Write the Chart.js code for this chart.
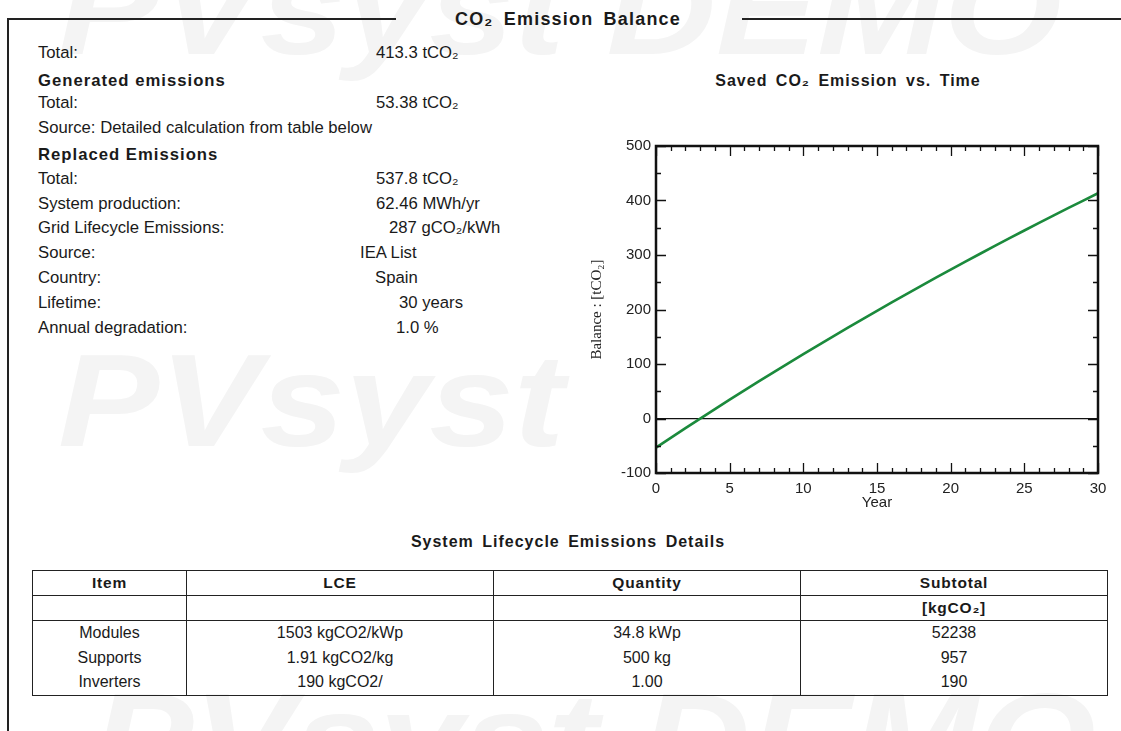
<!DOCTYPE html>
<html>
<head>
<meta charset="utf-8">
<title>CO2 Emission Balance</title>
<script src="https://cdn.jsdelivr.net/npm/chart.js@4/dist/chart.umd.min.js"></script>
<style>
    body {
        margin: 0;
        width: 1121px;
        height: 731px;
        overflow: hidden;
        position: relative;
        background: #fff;
        color: #1a1a1a;
        font-family: "Liberation Sans", Arial, sans-serif;
    }
    .wm {
        position: absolute;
        font: italic bold 132px "Liberation Sans", Arial, sans-serif;
        line-height: 1;
        color: #f4f4f4;
        white-space: nowrap;
        transform-origin: 0 0;
        transform: scaleX(1.15);
    }
    .rule { position: absolute; background: #222; }
    .txt { position: absolute; font-size: 16.7px; line-height: 20px; white-space: nowrap; }
    .hd { font-weight: bold; letter-spacing: 1px; }
    .ttl {
        position: absolute;
        font-weight: bold;
        white-space: nowrap;
        transform: translateX(-50%);
        line-height: 20px;
    }
    #chartBox { position: absolute; left: 580px; top: 130px; width: 540px; height: 390px; }
    #tbl {
        position: absolute;
        left: 32px;
        top: 570px;
        width: 1075px;
        border-collapse: collapse;
        table-layout: fixed;
        border: 1.5px solid #222;
        font-size: 16px;
    }
    #tbl td {
        text-align: center;
        padding: 0;
        border-left: 1px solid #222;
        border-right: 1px solid #222;
        height: 24.6px;
        line-height: 20px;
        white-space: nowrap;
    }
    #tbl tr.head td { font-weight: bold; font-size: 15.5px; letter-spacing: 0.8px; border-bottom: 1px solid #222; height: 24px; }
</style>
</head>
<body>

<!-- watermark -->
<div class="wm" style="left:58px; top:-57px;">PVsyst DEMO</div>
<div class="wm" style="left:58px; top:335px;">PVsyst</div>
<div class="wm" style="left:92px; top:674px;">PVsyst DEMO</div>

<!-- page frame -->
<div class="rule" style="left:7px; top:18px; width:389px; height:1.5px;"></div>
<div class="rule" style="left:742px; top:18px; width:379px; height:1.5px;"></div>
<div class="rule" style="left:7px; top:18px; width:1.5px; height:713px;"></div>
<div class="ttl" style="left:568px; top:9px; font-size:18px; letter-spacing:1.2px; word-spacing:4px;">CO₂ Emission Balance</div>

<!-- summary -->
<div class="txt" style="left:38px; top:43px;">Total:</div>
<div class="txt" style="left:376px; top:43px;">413.3 tCO₂</div>
<div class="txt hd" style="left:38px; top:71px;">Generated emissions</div>
<div class="txt" style="left:38px; top:93px;">Total:</div>
<div class="txt" style="left:376px; top:93px;">53.38 tCO₂</div>
<div class="txt" style="left:38px; top:118px;">Source: Detailed calculation from table below</div>
<div class="txt hd" style="left:38px; top:145px;">Replaced Emissions</div>
<div class="txt" style="left:38px; top:169px;">Total:</div>
<div class="txt" style="left:376px; top:169px;">537.8 tCO₂</div>
<div class="txt" style="left:38px; top:194px;">System production:</div>
<div class="txt" style="left:376px; top:194px;">62.46 MWh/yr</div>
<div class="txt" style="left:38px; top:218px;">Grid Lifecycle Emissions:</div>
<div class="txt" style="left:389px; top:218px;">287 gCO₂/kWh</div>
<div class="txt" style="left:38px; top:243px;">Source:</div>
<div class="txt" style="left:360px; top:243px;">IEA List</div>
<div class="txt" style="left:38px; top:268px;">Country:</div>
<div class="txt" style="left:375px; top:268px;">Spain</div>
<div class="txt" style="left:38px; top:293px;">Lifetime:</div>
<div class="txt" style="left:399px; top:293px;">30 years</div>
<div class="txt" style="left:38px; top:318px;">Annual degradation:</div>
<div class="txt" style="left:396px; top:318px;">1.0 %</div>

<!-- chart -->
<div class="ttl" style="left:848px; top:71px; font-size:16px; letter-spacing:1px; word-spacing:3px;">Saved CO₂ Emission vs. Time</div>
<div id="chartBox"><canvas id="balanceChart" width="540" height="390"></canvas></div>

<!-- table -->
<div class="ttl" style="left:568px; top:532px; font-size:16px; letter-spacing:1px; word-spacing:3px;">System Lifecycle Emissions Details</div>
<table id="tbl"></table>

<script>
    // cumulative CO2 balance per year [tCO2]
    const years = [0, 1, 2, 3, 4, 5, 6, 7, 8, 9, 10, 11, 12, 13, 14, 15,
        16, 17, 18, 19, 20, 21, 22, 23, 24, 25, 26, 27, 28, 29, 30];
    const balance = [-53.4, -35.5, -17.7, -0.1, 17.3, 34.5, 51.6, 68.4, 85.1, 101.7, 118.1,
        134.3, 150.3, 166.2, 182.0, 197.5, 213.0, 228.2, 243.3, 258.3, 273.1,
        287.8, 302.3, 316.7, 330.9, 345.0, 358.9, 372.7, 386.4, 399.9, 413.3];

    // lifecycle emissions table
    const tableHeader = ['Item', 'LCE', 'Quantity', 'Subtotal'];
    const tableUnits = ['', '', '', '[kgCO₂]'];
    const items = ['Modules', 'Supports', 'Inverters'];
    const lce = ['1503 kgCO2/kWp', '1.91 kgCO2/kg', '190 kgCO2/'];
    const quantities = ['34.8 kWp', '500 kg', '1.00'];
    const subtotals = [52238, 957, 190];

    // build the table
    const colWidths = [154, 307, 307, 307];
    const tbl = document.getElementById('tbl');
    const cg = document.createElement('colgroup');
    colWidths.forEach(w => {
        const c = document.createElement('col');
        c.style.width = w + 'px';
        cg.appendChild(c);
    });
    tbl.appendChild(cg);
    function addRow(cells, cls) {
        const tr = document.createElement('tr');
        if (cls) tr.className = cls;
        cells.forEach(v => {
            const td = document.createElement('td');
            td.textContent = v;
            tr.appendChild(td);
        });
        tbl.appendChild(tr);
    }
    addRow(tableHeader, 'head');
    addRow(tableUnits, 'head');
    items.forEach((item, i) => addRow([item, lce[i], quantities[i], subtotals[i]]));

    // inward ticks on all four sides + heavy frame, PVsyst style
    const frameTicks = {
        id: 'frameTicks',
        afterDraw(chart) {
            const { ctx, chartArea: a, scales: { x, y } } = chart;
            ctx.save();
            ctx.strokeStyle = '#111';
            ctx.lineWidth = 1.3;
            ctx.beginPath();
            for (let v = x.min; v <= x.max; v += 1) {
                const px = Math.round(x.getPixelForValue(v)) + 0.5;
                const len = v % 5 === 0 ? 10 : 5;
                ctx.moveTo(px, a.bottom); ctx.lineTo(px, a.bottom - len);
                ctx.moveTo(px, a.top); ctx.lineTo(px, a.top + len);
            }
            for (let v = y.min; v <= y.max; v += 50) {
                const py = Math.round(y.getPixelForValue(v)) + 0.5;
                const len = v % 100 === 0 ? 10 : 5;
                ctx.moveTo(a.left, py); ctx.lineTo(a.left + len, py);
                ctx.moveTo(a.right, py); ctx.lineTo(a.right - len, py);
            }
            ctx.stroke();
            ctx.lineWidth = 2.5;
            ctx.strokeRect(a.left, a.top, a.right - a.left, a.bottom - a.top);
            ctx.restore();
        }
    };

    const tickFont = { family: 'Liberation Sans', size: 15 };

    new Chart(document.getElementById('balanceChart').getContext('2d'), {
        type: 'line',
        data: {
            datasets: [{
                label: 'Balance',
                data: years.map((yr, i) => ({ x: yr, y: balance[i] })),
                borderColor: '#1b8a3c',
                borderWidth: 2.6,
                pointRadius: 0,
                fill: false,
                tension: 0
            }]
        },
        options: {
            responsive: false,
            animation: false,
            devicePixelRatio: 1,
            layout: { padding: { left: 0, top: 16, right: 22, bottom: 0 } },
            plugins: {
                legend: { display: false },
                tooltip: { enabled: false }
            },
            scales: {
                x: {
                    type: 'linear',
                    min: 0,
                    max: 30,
                    grid: { display: false, drawTicks: false },
                    border: { display: false },
                    ticks: { stepSize: 5, padding: 7, color: '#222', font: tickFont, maxRotation: 0 },
                    title: { display: true, text: 'Year', color: '#222', font: tickFont, padding: { top: 0, bottom: 8 } },
                    afterFit: axis => { axis.height = 47; }
                },
                y: {
                    min: -100,
                    max: 500,
                    grid: {
                        drawTicks: false,
                        lineWidth: 1.2,
                        color: c => c.tick && c.tick.value === 0 ? '#111' : 'rgba(0,0,0,0)'
                    },
                    border: { display: false },
                    ticks: { stepSize: 100, padding: 5, color: '#222', font: tickFont },
                    title: {
                        display: true,
                        text: 'Balance : [tCO₂]',
                        color: '#222',
                        font: { family: 'Liberation Serif', size: 15 },
                        padding: { top: 8, bottom: 0 }
                    },
                    afterFit: axis => { axis.width = 76; }
                }
            }
        },
        plugins: [frameTicks]
    });
</script>
</body>
</html>
